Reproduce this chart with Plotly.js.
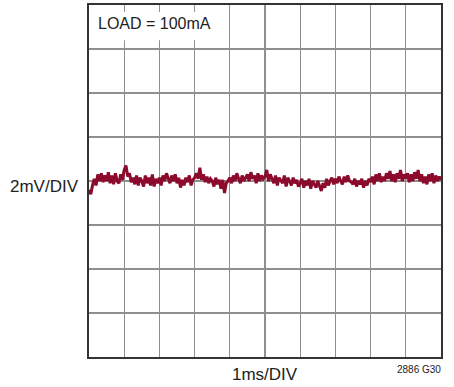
<!DOCTYPE html>
<html>
<head>
<meta charset="utf-8">
<script src="https://cdn.plot.ly/plotly-3.0.1.min.js"></script>
<style>html,body{margin:0;padding:0;background:#fff;}#chart{width:454px;height:387px;}</style>
</head>
<body>
<div id="chart"></div>
<script>
// time axis: 0..10 ms (1 ms/DIV), voltage: -8..8 mV (2 mV/DIV)
const timeStart = 0;
const timeStep = 0.05;
const noiseMv = [
  -0.4,-0.6,-0.2,0.1,-0.2,0.3,0.0,0.35,-0.05,0.25,
  0.0,0.4,-0.1,0.25,-0.15,0.35,0.0,-0.1,0.3,0.05,
  0.5,0.7,0.2,0.35,-0.05,0.15,-0.15,0.25,-0.2,0.15,
  0.0,-0.25,0.25,-0.1,0.15,-0.2,0.3,-0.25,0.1,-0.1,
  0.15,-0.2,0.25,0.0,0.35,0.1,-0.1,0.25,0.0,0.3,
  -0.1,0.15,-0.3,0.05,-0.2,0.15,-0.05,0.25,-0.2,0.05,
  0.15,0.35,0.1,0.6,0.05,0.3,-0.05,0.2,-0.1,0.1,
  0.0,-0.25,0.15,-0.15,0.05,-0.35,0.05,-0.55,-0.1,0.0,
  0.15,-0.1,0.25,0.0,0.35,0.1,-0.1,0.25,0.0,0.15,
  0.3,0.0,0.4,0.1,0.25,-0.1,0.35,0.0,0.25,0.1,
  0.2,0.5,0.0,0.3,0.1,-0.1,0.25,-0.2,0.15,0.0,
  -0.1,0.25,-0.25,0.15,0.0,-0.2,0.15,-0.1,0.05,-0.25,
  -0.1,0.1,-0.3,0.0,-0.2,0.1,-0.35,0.0,-0.15,-0.3,
  0.0,-0.2,-0.45,-0.1,-0.3,0.1,-0.2,0.0,0.15,-0.15,
  0.1,-0.1,0.2,0.0,-0.15,0.2,-0.05,0.25,0.0,-0.05,
  -0.15,0.1,-0.25,0.0,-0.15,0.1,-0.3,0.0,-0.2,0.1,
  -0.05,0.2,-0.15,0.3,0.0,0.35,-0.05,0.2,0.0,0.35,
  0.1,0.45,0.0,0.3,-0.05,0.35,0.1,0.5,0.0,0.3,
  0.1,0.35,-0.05,0.3,0.0,0.4,0.1,0.5,0.0,0.3,
  -0.1,0.2,-0.15,0.3,0.0,0.35,-0.1,0.25,0.0,0.2,0.05
];
const timeMs = noiseMv.map((_, i) => +(timeStart + i * timeStep).toFixed(3));

const yLabel = "2mV/DIV";
const xLabel = "1ms/DIV";
const loadLabel = "LOAD = 100mA";
const figId = "2886 G30";

const FONT = "'Liberation Sans', Arial, sans-serif";

const trace = {
  x: timeMs, y: noiseMv, type: 'scatter', mode: 'lines',
  line: {color: '#8c0a2c', width: 3},
  hoverinfo: 'skip'
};

const layout = {
  width: 454, height: 387,
  margin: {l: 89, r: 13, t: 5, b: 30},
  paper_bgcolor: '#fff', plot_bgcolor: '#fff',
  showlegend: false,
  xaxis: {
    range: [0, 10], dtick: 1, tick0: 0,
    showgrid: true, gridcolor: '#8f8f8f', gridwidth: 1.3,
    showticklabels: false, ticks: '', zeroline: false,
    showline: true, mirror: true, linecolor: '#333', linewidth: 1.8,
    fixedrange: true
  },
  yaxis: {
    range: [-8, 8], dtick: 2, tick0: 0,
    showgrid: true, gridcolor: '#8f8f8f', gridwidth: 1.3,
    showticklabels: false, ticks: '', zeroline: false,
    showline: true, mirror: true, linecolor: '#333', linewidth: 1.8,
    fixedrange: true
  },
  shapes: [
    {type: 'rect', xref: 'x', yref: 'y', x0: 0.06, x1: 3.94, y0: 6.4, y1: 7.68,
     fillcolor: '#fff', line: {width: 0}, layer: 'above'}
  ],
  annotations: [
    {text: loadLabel, xref: 'paper', yref: 'paper', x: 0.02, y: 0.947,
     xanchor: 'left', yanchor: 'middle', showarrow: false,
     font: {family: FONT, size: 16, color: '#222'}},
    {text: yLabel, xref: 'paper', yref: 'paper', x: -0.022, y: 0.485,
     xanchor: 'right', yanchor: 'middle', showarrow: false,
     font: {family: FONT, size: 17, color: '#222'}},
    {text: xLabel, xref: 'paper', yref: 'paper', x: 0.5, y: -0.051,
     xanchor: 'center', yanchor: 'middle', showarrow: false,
     font: {family: FONT, size: 17, color: '#222'}},
    {text: figId, xref: 'paper', yref: 'paper', x: 1.006, y: -0.014,
     xanchor: 'right', yanchor: 'top', showarrow: false,
     font: {family: FONT, size: 10, color: '#222'}}
  ]
};

Plotly.newPlot('chart', [trace], layout, {displayModeBar: false, staticPlot: true});
</script>
</body>
</html>
